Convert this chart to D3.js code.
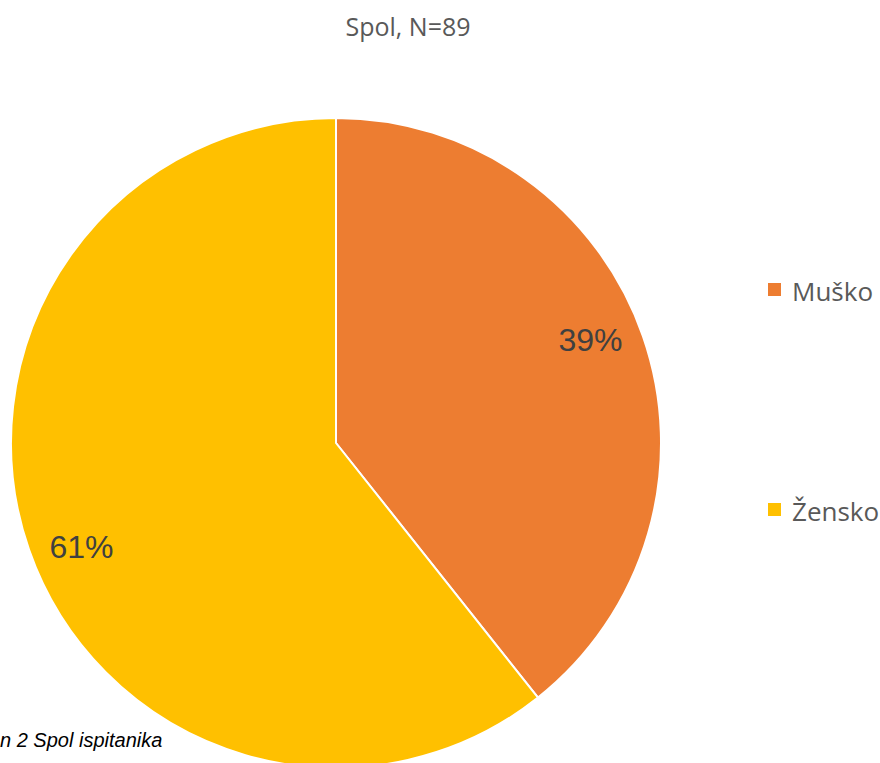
<!DOCTYPE html>
<html>
<head>
<meta charset="utf-8">
<script src="https://cdn.jsdelivr.net/npm/d3@7"></script>
<style>
  body { margin: 0; background: #fff; }
  svg { display: block; }
</style>
</head>
<body>
<div class="chart"></div>
<script>
////////// DATA //////////

const categories = ["Muško", "Žensko"];
const counts = [35, 54];
const colours = ["#ED7D31", "#FFC000"];
const title = "Spol, N=89";
const caption = "n 2 Spol ispitanika";

////////// SETUP //////////

const width = 880, height = 763;
const cx = 336, cy = 443, radius = 325;

let svg = d3.select(".chart")
    .append("svg")
    .attr("width", width)
    .attr("height", height);

svg.append("text")
    .attr("x", 408)
    .attr("y", 36)
    .attr("text-anchor", "middle")
    .style("font-family", "'Open Sans', sans-serif")
    .style("font-size", "25px")
    .style("fill", "#595959")
    .text(title);

////////// PIE //////////

const total = d3.sum(counts);
let pie = d3.pie().sort(null).value(d => d)(counts);

let arc = d3.arc().innerRadius(0).outerRadius(radius);

let g = svg.append("g")
    .attr("transform", "translate(" + cx + "," + cy + ")");

g.selectAll("path")
    .data(pie)
    .enter()
    .append("path")
    .attr("d", arc)
    .attr("fill", (d, i) => colours[i])
    .attr("stroke", "white")
    .attr("stroke-width", 2);

// labels sit near the rim, slightly rotated back like the original
function labelPos(d) {
  let a = (d.startAngle + d.endAngle) / 2 - 0.05;
  let r = radius * 0.845;
  return [r * Math.sin(a), -r * Math.cos(a)];
}

g.selectAll(".lbl")
    .data(pie)
    .enter()
    .append("text")
    .attr("class", "lbl")
    .attr("transform", d => "translate(" + labelPos(d) + ")")
    .attr("text-anchor", "middle")
    .attr("dy", "0.36em")
    .style("font-family", "'Liberation Sans', Arial, sans-serif")
    .style("font-size", "32px")
    .style("fill", "#404040")
    .text(d => Math.round(d.value / total * 100) + "%");

////////// LEGEND //////////

let legend = svg.append("g")
    .selectAll("g")
    .data(categories)
    .enter()
    .append("g")
    .attr("transform", (d, i) => "translate(768," + (283 + i * 220) + ")");

legend.append("rect")
    .attr("width", 13)
    .attr("height", 13)
    .attr("fill", (d, i) => colours[i]);

legend.append("text")
    .attr("x", 24)
    .attr("y", 18)
    .style("font-family", "'Open Sans', sans-serif")
    .style("font-size", "26px")
    .style("fill", "#595959")
    .text(d => d);

////////// CAPTION //////////

svg.append("text")
    .attr("x", 0)
    .attr("y", 747)
    .style("font-family", "'Liberation Sans', Arial, sans-serif")
    .style("font-style", "italic")
    .style("font-size", "20px")
    .style("fill", "#000")
    .text(caption);
</script>
</body>
</html>
